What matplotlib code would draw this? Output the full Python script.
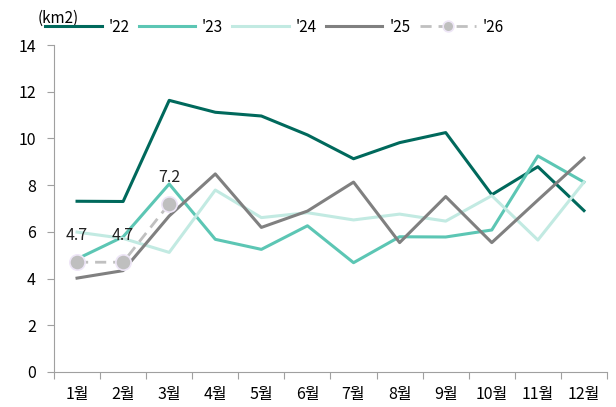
import matplotlib
matplotlib.use("Agg")
import matplotlib.pyplot as plt
from matplotlib.ticker import FixedLocator, NullFormatter

plt.rcParams['font.family'] = ['Noto Sans CJK KR', 'DejaVu Sans']

months = ['1월', '2월', '3월', '4월', '5월', '6월', '7월', '8월', '9월', '10월', '11월', '12월']
y22 = [7.31, 7.30, 11.63, 11.12, 10.96, 10.15, 9.13, 9.82, 10.25, 7.59, 8.79, 6.91]
y23 = [4.84, 5.79, 8.05, 5.68, 5.25, 6.26, 4.68, 5.79, 5.78, 6.08, 9.25, 8.13]
y24 = [5.99, 5.72, 5.12, 7.79, 6.61, 6.82, 6.51, 6.76, 6.46, 7.55, 5.65, 8.13]
y25 = [4.02, 4.34, 6.68, 8.48, 6.19, 6.89, 8.13, 5.54, 7.51, 5.54, 7.36, 9.16]
y26 = [4.7, 4.7, 7.2]

fig = plt.figure(figsize=(6.16, 4.07), dpi=100)
ax = fig.add_axes([54/616, 1-372/407, (607-54)/616, (372-45)/407])

x = list(range(1, 13))
ax.plot(x, y22, color='#00695C', lw=2.2, label="'22")
ax.plot(x, y23, color='#5CC6B4', lw=2.2, label="'23")
ax.plot(x, y24, color='#C2EAE2', lw=2.2, label="'24")
ax.plot(x, y25, color='#808080', lw=2.2, label="'25")
x26 = x[:len(y26)]
ax.plot(x26, y26, color='#C0C0C0', lw=2.0, ls=(0, (4, 2.5)), marker='o', ms=11,
        markerfacecolor='#BFBFBF', markeredgecolor='#EEE6F7', markeredgewidth=1.2, label="'26")
for xi, yi in zip(x26, y26):
    ax.annotate(f"{yi:.1f}", (xi, yi), xytext=(0, 13), textcoords='offset points',
                ha='center', va='bottom', fontsize=11.5, color='#222222')

ax.set_xlim(0.5, 12.5)
ax.set_ylim(0, 14)
ax.set_yticks(range(0, 15, 2))
ax.xaxis.set_major_locator(FixedLocator([i + 0.5 for i in range(0, 13)]))
ax.xaxis.set_major_formatter(NullFormatter())
ax.xaxis.set_minor_locator(FixedLocator(x))
ax.set_xticklabels(months, minor=True)
ax.tick_params(axis='x', which='major', length=5, color='#A0A0A0', direction='out')
ax.tick_params(axis='x', which='minor', length=0, pad=10, labelsize=11.5)
ax.tick_params(axis='y', length=5, color='#A0A0A0', labelsize=11.5, pad=8)
for s in ['top', 'right']:
    ax.spines[s].set_visible(False)
for s in ['left', 'bottom']:
    ax.spines[s].set_color('#A0A0A0')

fig.text(38/616, 1-18/407, '(km2)', fontsize=11, ha='left', va='center')
leg = fig.legend(loc='center left', bbox_to_anchor=(45/616, 1-27/407), ncol=5, frameon=False,
                 fontsize=11, handlelength=3.7, columnspacing=0.6, handletextpad=0.45,
                 borderaxespad=0, borderpad=0, markerscale=0.7)
fig.savefig('out.png', dpi=100)
